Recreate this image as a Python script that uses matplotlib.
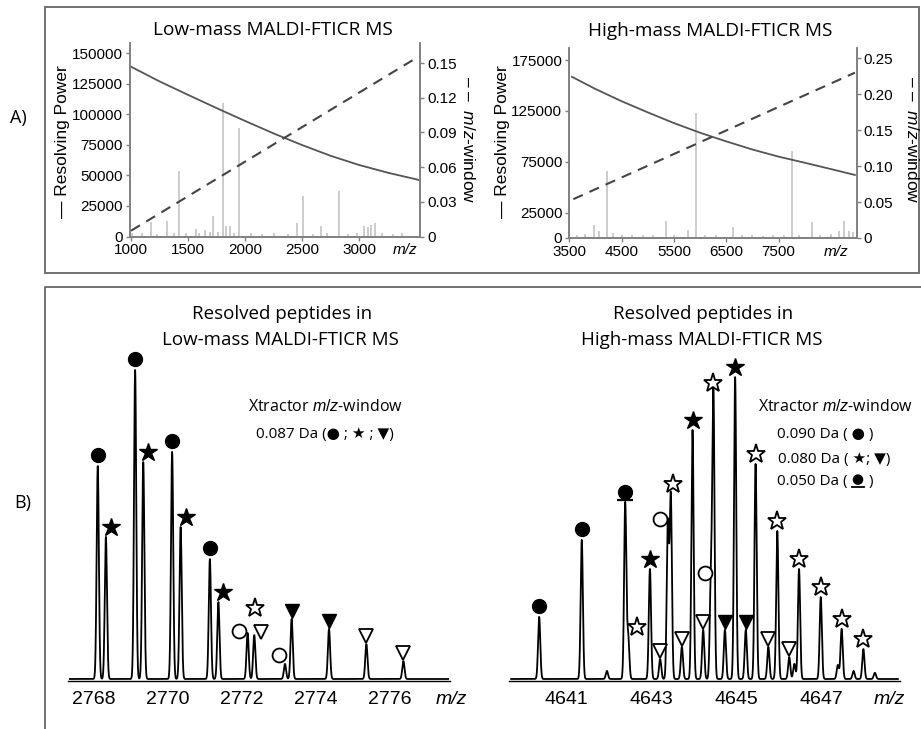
import numpy as np
import matplotlib.pyplot as plt
from matplotlib.patches import Rectangle, Circle
from matplotlib.lines import Line2D
from matplotlib.transforms import offset_copy
from matplotlib.offsetbox import TextArea, DrawingArea, HPacker, AnnotationBbox

plt.rcParams['mathtext.fontset'] = 'custom'
plt.rcParams['mathtext.rm'] = 'Liberation Sans'
plt.rcParams['mathtext.it'] = 'Liberation Sans:italic'

# ---------------- data ----------------
# Panel A, low-mass instrument
low_rp_mz = [1000, 1250, 1500, 1750, 2000, 2250, 2500, 2750, 3000, 3250, 3500, 3520]
low_rp = [138800, 126800, 115800, 105000, 94500, 84300, 74800, 66000, 58500, 52200, 46800, 46300]
low_win_mz = [1000, 3480]
low_win = [0.005, 0.153]
low_spec_mz = [1010, 1100, 1175, 1230, 1313, 1380, 1424, 1480, 1568, 1600, 1649, 1690,
               1722, 1760, 1810, 1833, 1868, 1900, 1950, 2050, 2150, 2250, 2380, 2453,
               2506, 2600, 2664, 2720, 2825, 2900, 2980, 3047, 3082, 3103, 3140, 3200,
               3300, 3380]
low_spec_h = [3000, 2500, 12000, 2000, 12500, 3000, 53700, 2500, 5900, 3000, 5000, 4000,
              16700, 3500, 109000, 8600, 8600, 3000, 89000, 2500, 2000, 2500, 2000, 11300,
              33500, 2000, 8600, 2500, 37000, 2000, 2500, 8500, 7500, 9000, 11000, 3000,
              2000, 2500]

# Panel A, high-mass instrument
high_rp_mz = [3550, 4000, 4500, 5000, 5500, 6000, 6500, 7000, 7500, 8000, 8500, 8960]
high_rp = [158500, 146500, 134500, 123500, 113000, 103500, 95000, 87000, 80000, 74000, 67800, 62000]
high_win_mz = [3576, 8962]
high_win = [0.054, 0.230]
high_spec_mz = [3650, 3800, 3972, 4070, 4215, 4330, 4500, 4700, 4900, 5100, 5343, 5500,
                5764, 5917, 6100, 6300, 6636, 6800, 7000, 7200, 7400, 7600, 7752, 7900,
                8135, 8300, 8500, 8650, 8752, 8850, 8930]
high_spec_h = [3000, 4000, 12800, 7000, 66200, 5000, 3000, 2500, 3000, 2500, 17000, 3000,
               8000, 123200, 3000, 2500, 11100, 3000, 2500, 2000, 3000, 2500, 85800, 3000,
               16000, 3000, 4000, 7000, 17000, 7000, 6000]

# Panel B, resolved isotope clusters (relative intensity) and peak annotations
low_pk_mz = [2768.12, 2768.34, 2769.13, 2769.35, 2770.13, 2770.36, 2771.15, 2771.38,
             2772.17, 2772.35, 2773.18, 2773.36, 2774.37, 2775.38, 2776.38]
low_pk_int = [68.9, 46.0, 100, 70.2, 73.5, 49.2, 38.8, 24.9,
              14.9, 14.2, 4.9, 19.4, 16.2, 11.3, 5.8]
low_pk_tag = ['fc', 'fs', 'fc', 'fs', 'fc', 'fs', 'fc', 'fs',
              'oc', 'os,ot', 'oc', 'ft', 'ft', 'ot', 'ot']

high_pk_mz = [4640.37, 4641.37, 4641.96, 4642.39, 4642.46, 4642.97, 4643.21, 4643.39,
              4643.46, 4643.72, 4643.97, 4644.22, 4644.40, 4644.46, 4644.73, 4644.97,
              4645.22, 4645.45, 4645.75, 4645.96, 4646.24, 4646.36, 4646.47, 4646.98,
              4647.38, 4647.47, 4647.75, 4647.98, 4648.25]
high_pk_int = [20.1, 45.0, 2.6, 57.0, 13.6, 35.6, 6.5, 50.2,
               59.2, 10.4, 80.6, 15.9, 30.7, 92.6, 15.9, 97.7,
               15.9, 69.6, 10.4, 47.9, 7.1, 4.9, 35.6, 26.5,
               4.5, 16.2, 2.6, 9.7, 2.0]
high_pk_tag = ['fc', 'fc', '', 'uc', 'os', 'fs', 'ot', 'oc',
               'os', 'ot', 'fs', 'ot', 'oc', 'os', 'ft', 'fs',
               'ft', 'os', 'ot', 'os', 'ot', '', 'os', 'os',
               '', 'os', '', 'os', '']

# ---------------- layout helpers ----------------
W, H = 921, 729
SERIF_LIKE = ['Open Sans', 'DejaVu Sans']
ARIAL = 'Liberation Sans'

fig = plt.figure(figsize=(W / 100, H / 100), dpi=100)


def rect(x0, y0, x1, y1):
    """pixel box (origin top-left) -> figure fraction [l, b, w, h]"""
    return [x0 / W, 1 - y1 / H, (x1 - x0) / W, (y1 - y0) / H]


def ftext(x, y, s, **kw):
    kw.setdefault('ha', 'center')
    kw.setdefault('va', 'center')
    return fig.text(x / W, 1 - y / H, s, **kw)


# outer panel frames
fig.add_artist(Rectangle((45 / W, 1 - 273 / H), 874 / W, 266 / H, transform=fig.transFigure,
                         fill=False, ec='#666666', lw=1.3))
fig.add_artist(Line2D([45 / W, 45 / W, 1.0], [0, 1 - 287 / H, 1 - 287 / H],
                      transform=fig.transFigure, color='#666666', lw=1.3))
ftext(18, 118, 'A)', fontsize=13, family=SERIF_LIKE)
ftext(23, 503, 'B)', fontsize=13, family=SERIF_LIKE)


def resolving_panel(box, rp_mz, rp, win_mz, win, spec_mz, spec_h, xlim, ylim, y2lim,
                    xticks, yticks, y2ticks, y2fmt, mz_x):
    ax = fig.add_axes(box)
    ax.vlines(spec_mz, 0, spec_h, color='#c8c8c8', lw=1.3)
    ax.plot(rp_mz, rp, color='#555555', lw=1.3)
    ax.set_xlim(*xlim)
    ax.set_ylim(*ylim)
    ax.set_xticks(xticks)
    ax.set_xticklabels([str(t) for t in xticks])
    ax.set_yticks(yticks)
    ax.set_yticklabels([str(t) for t in yticks])
    ax2 = ax.twinx()
    ax2.plot(win_mz, win, color='#444444', lw=1.5, dashes=(5, 3.5))
    ax2.set_ylim(*y2lim)
    ax2.set_yticks(y2ticks)
    ax2.set_yticklabels(['0'] + [format(t, y2fmt) for t in y2ticks[1:]])
    for a in (ax, ax2):
        a.spines['top'].set_visible(False)
        for s in ('left', 'right', 'bottom'):
            a.spines[s].set_color('#808080')
            a.spines[s].set_linewidth(1.2)
        a.tick_params(length=3, width=1, color='#808080', pad=2, labelsize=11)
        for lab in a.get_xticklabels() + a.get_yticklabels():
            lab.set_family(ARIAL)
    ax.annotate('m/z', xy=(mz_x, 0), xycoords=('data', 'axes fraction'), xytext=(0, -5),
                textcoords='offset points', ha='center', va='top', fontsize=11,
                style='italic', family=ARIAL)
    return ax


resolving_panel(rect(130, 43, 420, 236.5), low_rp_mz, low_rp, low_win_mz, low_win,
                low_spec_mz, low_spec_h, (991, 3535), (0, 158200), (0, 0.1673),
                [1000, 1500, 2000, 2500, 3000], list(range(0, 150001, 25000)),
                [0, 0.03, 0.06, 0.09, 0.12, 0.15], '.2f', 3400)
resolving_panel(rect(569.3, 48, 856.7, 238), high_rp_mz, high_rp, high_win_mz, high_win,
                high_spec_mz, high_spec_h, (3500, 8995), (0, 186800), (0, 0.2643),
                [3500, 4500, 5500, 6500, 7500], [0, 25000, 75000, 125000, 175000],
                [0, 0.05, 0.10, 0.15, 0.20, 0.25], '.2f', 8600)

ftext(273, 30, 'Low-mass MALDI-FTICR MS', fontsize=13.7, family=SERIF_LIKE)
ftext(710, 31, 'High-mass MALDI-FTICR MS', fontsize=13.7, family=SERIF_LIKE)
for x in (63, 502):
    ftext(x, 142, '\u2014 Resolving Power', fontsize=12.5, family=ARIAL, rotation=90)
for x in (468, 912):
    ftext(x, 140, '\u2013 \u2013  $m/z$-window', fontsize=12.5, family=ARIAL, rotation=270)

# ---------------- panel B ----------------
MARK = {
    'fc': dict(marker='o', mfc='black', mec='black', ms=10),
    'oc': dict(marker='o', mfc='white', mec='black', ms=10, mew=1.3),
    'fs': dict(marker='*', mfc='black', mec='black', ms=13.5),
    'os': dict(marker='*', mfc='white', mec='black', ms=14, mew=1.3),
    'ft': dict(marker='v', mfc='black', mec='black', ms=10),
    'ot': dict(marker='v', mfc='white', mec='black', ms=10, mew=1.3),
    'uc': dict(marker='o', mfc='black', mec='black', ms=10),
}
LIFT = {'fc': 11, 'oc': 11, 'uc': 11, 'fs': 10, 'os': 10, 'ft': 8, 'ot': 8}
NUDGE = {
    (2772.17, 'oc'): (-9, 2), (2772.35, 'os'): (1, 27), (2772.35, 'ot'): (7, 3),
    (2773.18, 'oc'): (-6, 9), (4642.46, 'os'): (9, 10), (4643.39, 'oc'): (-8, 5),
    (4643.46, 'os'): (2, 12), (4644.40, 'oc'): (-6, 11),
}


def peptide_panel(box, pk_mz, pk_int, pk_tag, xlim, sigma, xticks, star_dx, mz_x):
    ax = fig.add_axes(box)
    grid = np.linspace(xlim[0] + 0.05, xlim[1] - 0.05, 12000)
    prof = np.zeros_like(grid)
    for m, h in zip(pk_mz, pk_int):
        prof += h * np.exp(-0.5 * ((grid - m) / sigma) ** 2)
    ax.plot(grid, prof, color='black', lw=1.3)
    for m, h, tags in zip(pk_mz, pk_int, pk_tag):
        for tag in [t for t in tags.split(',') if t]:
            dx = star_dx if tag in ('fs', 'os') else 0
            dx, dy = NUDGE.get((m, tag), (dx, LIFT[tag]))
            tr = offset_copy(ax.transData, fig=fig, x=dx, y=dy, units='dots')
            ax.plot([m], [h], transform=tr, ls='none', clip_on=False, **MARK[tag])
            if tag == 'uc':
                tr = offset_copy(ax.transData, fig=fig, x=0, y=3, units='dots')
                ax.plot([m], [h], transform=tr, ls='none', clip_on=False,
                        marker='_', ms=12, mew=1.6, color='black')
    ax.set_xlim(*xlim)
    ax.set_ylim(-0.65, 122.65)
    ax.set_yticks([])
    ax.set_xticks(xticks)
    ax.set_xticklabels([str(t) for t in xticks], family=ARIAL, fontsize=14)
    ax.tick_params(axis='x', length=0, pad=7)
    for s in ('left', 'right', 'top'):
        ax.spines[s].set_visible(False)
    ax.spines['bottom'].set_linewidth(1.0)
    ax.patch.set_visible(False)
    ax.annotate('m/z', xy=(mz_x, 0), xycoords=('axes fraction', 'axes fraction'),
                xytext=(0, -7), textcoords='offset points', ha='center', va='top',
                fontsize=14, style='italic', family=ARIAL, annotation_clip=False)
    return ax


peptide_panel(rect(68, 300, 450, 681), low_pk_mz, low_pk_int, low_pk_tag,
              (2767.316, 2777.64), 0.03, [2768, 2770, 2772, 2774, 2776], 5, 1.003)
peptide_panel(rect(509, 300, 900, 681), high_pk_mz, high_pk_int, high_pk_tag,
              (4639.662, 4648.84), 0.026, [4641, 4643, 4645, 4647], 0, 0.974)

ftext(282, 314, 'Resolved peptides in', fontsize=13.5, family=SERIF_LIKE)
ftext(280, 340, 'Low-mass MALDI-FTICR MS', fontsize=13.5, family=SERIF_LIKE)
ftext(703, 314, 'Resolved peptides in', fontsize=13.5, family=SERIF_LIKE)
ftext(702, 340, 'High-mass MALDI-FTICR MS', fontsize=13.5, family=SERIF_LIKE)

ftext(325, 407, 'Xtractor $m/z$-window', fontsize=11.5, family=SERIF_LIKE)
ftext(325, 435, '0.087 Da (\u25cf ; \u2605 ; \u25bc)', fontsize=11, family=SERIF_LIKE)
ftext(835, 407, 'Xtractor $m/z$-window', fontsize=11.5, family=SERIF_LIKE)
ftext(825, 435, '0.090 Da ( \u25cf )', fontsize=11, family=SERIF_LIKE)
ftext(834, 459, '0.080 Da ( \u2605; \u25bc)', fontsize=11, family=SERIF_LIKE)

# underlined circle legend entry
tp = dict(fontsize=11, family=SERIF_LIKE)
glyph = DrawingArea(11, 12)
glyph.add_artist(Circle((5.5, 7), 3.8, fc='black', ec='none'))
glyph.add_artist(Line2D([1, 10], [1.5, 1.5], color='black', lw=1.3))
pack = HPacker(children=[TextArea('0.050 Da (', textprops=tp), glyph,
                         TextArea(')', textprops=tp)], align='center', pad=0, sep=2)
fig.add_artist(AnnotationBbox(pack, (825 / W, 1 - 481 / H), xycoords='figure fraction',
                              frameon=False, box_alignment=(0.5, 0.5)))

fig.savefig('out.png', dpi=100)
